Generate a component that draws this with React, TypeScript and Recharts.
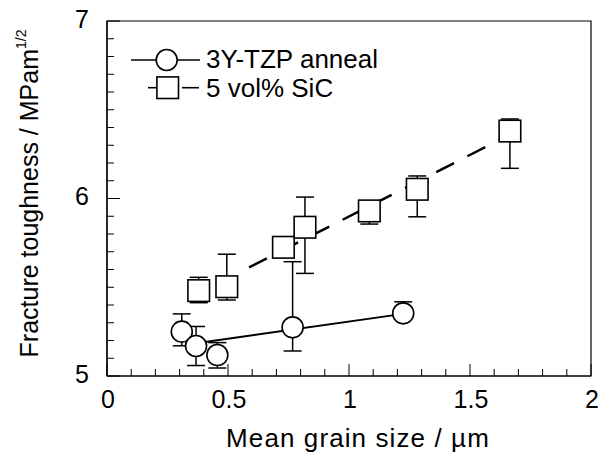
import {
  ComposedChart,
  Scatter,
  XAxis,
  YAxis,
  ErrorBar,
  ReferenceArea,
  Legend,
  Label,
} from 'recharts';

// 3Y-TZP anneal (circles)
const tzpX = [0.309, 0.368, 0.456, 0.767, 1.224];
const tzpY = [5.25, 5.169, 5.118, 5.274, 5.353];
const tzpErr = [[0.08, 0.1], [0.11, 0.11], [0.073, 0.07], [0.133, 0.37], [0.03, 0.065]];
const tzpFitX = [0.368, 1.224];
const tzpFitY = [5.185, 5.35];

// 5 vol% SiC (squares)
const sicX = [0.379, 0.495, 0.729, 0.818, 1.084, 1.282, 1.665];
const sicY = [5.481, 5.503, 5.725, 5.838, 5.93, 6.052, 6.38];
const sicErr = [[0.068, 0.075], [0.075, 0.183], [0.05, 0.05], [0.26, 0.17], [0.074, 0.04], [0.155, 0.075], [0.21, 0.068]];
const sicFitX = [0.587, 1.665];
const sicFitY = [5.612, 6.36];

const xTicks = [0, 0.1, 0.2, 0.3, 0.4, 0.5, 0.6, 0.7, 0.8, 0.9, 1, 1.1, 1.2, 1.3, 1.4, 1.5, 1.6, 1.7, 1.8, 1.9, 2];
const xMajor = [0, 0.5, 1, 1.5, 2];
const yTicks = [5, 5.1, 5.2, 5.3, 5.4, 5.5, 5.6, 5.7, 5.8, 5.9, 6, 6.1, 6.2, 6.3, 6.4, 6.5, 6.6, 6.7, 6.8, 6.9, 7];
const yMajor = [5, 6, 7];

const FONT = '"Liberation Sans", Arial, sans-serif';

const tzpData = tzpX.map((x, i) => ({ x, y: tzpY[i], err: tzpErr[i] }));
const sicData = sicX.map((x, i) => ({ x, y: sicY[i], err: sicErr[i] }));
const tzpFit = tzpFitX.map((x, i) => ({ x, y: tzpFitY[i] }));
const sicFit = sicFitX.map((x, i) => ({ x, y: sicFitY[i] }));

const isMajor = (list: number[], v: number) => list.some((m) => Math.abs(m - v) < 1e-9);

const XTick = (props: any) => {
  const { x, y, payload } = props;
  const major = isMajor(xMajor, payload.value);
  return (
    <g>
      <line x1={x} x2={x} y1={y} y2={y - (major ? 12 : 7)} stroke="#000" strokeWidth={1} />
      {major && (
        <text x={x + 1} y={y + 32} textAnchor="middle" fontSize={25} fontFamily={FONT} fill="#000">
          {String(payload.value)}
        </text>
      )}
    </g>
  );
};

const YTick = (props: any) => {
  const { x, y, payload } = props;
  const major = isMajor(yMajor, payload.value);
  return (
    <g>
      <line x1={x} x2={x + (major ? 13 : 7)} y1={y} y2={y} stroke="#000" strokeWidth={1} />
      {major && (
        <text x={x - 18} y={y + 6.5} textAnchor="end" fontSize={25} fontFamily={FONT} fill="#000">
          {String(payload.value)}
        </text>
      )}
    </g>
  );
};

const Circle = (props: any) => (
  <circle cx={props.cx} cy={props.cy} r={10.5} fill="#fff" stroke="#000" strokeWidth={1.6} />
);

const Square = (props: any) => (
  <rect x={props.cx - 10.8} y={props.cy - 10.8} width={21.6} height={21.6} fill="#fff" stroke="#000" strokeWidth={1.6} />
);

const NoDot = () => <g />;

const renderLegend = () => (
  <svg width={300} height={70} style={{ display: 'block' }}>
    <line x1={11} x2={80} y1={20} y2={20} stroke="#000" strokeWidth={1.6} />
    <circle cx={46.7} cy={20} r={10.5} fill="#fff" stroke="#000" strokeWidth={1.6} />
    <text x={86} y={28} fontSize={26} fontFamily={FONT} fill="#000">3Y-TZP anneal</text>
    <line x1={28} x2={37} y1={47.7} y2={47.7} stroke="#000" strokeWidth={1.6} />
    <line x1={62} x2={79} y1={47.7} y2={47.7} stroke="#000" strokeWidth={1.6} />
    <rect x={36.9} y={36.9} width={21.6} height={21.6} fill="#fff" stroke="#000" strokeWidth={1.6} />
    <text x={86} y={56.7} fontSize={26} fontFamily={FONT} fill="#000">5 vol% SiC</text>
  </svg>
);

export default function App() {
  return (
    <div style={{ position: 'absolute', left: 0, top: 0, background: '#fff' }}>
      <ComposedChart width={607} height={452} margin={{ top: 21, right: 16, bottom: 0, left: 0 }}>
        <XAxis
          type="number"
          dataKey="x"
          domain={[0, 2]}
          ticks={xTicks}
          interval={0}
          tick={<XTick />}
          tickSize={0}
          tickMargin={0}
          tickLine={false}
          height={76}
          axisLine={{ stroke: '#000', strokeWidth: 1.2 }}
          allowDataOverflow
        >
          <Label
            content={(p: any) => (
              <text
                x={358}
                y={p.viewBox.y + 71}
                textAnchor="middle"
                fontSize={26}
                letterSpacing={1.1}
                fontFamily={FONT}
                fill="#000"
              >
                Mean grain size / µm
              </text>
            )}
          />
        </XAxis>
        <YAxis
          type="number"
          dataKey="y"
          domain={[5, 7]}
          ticks={yTicks}
          interval={0}
          tick={<YTick />}
          tickSize={0}
          tickMargin={0}
          tickLine={false}
          width={107}
          axisLine={{ stroke: '#000', strokeWidth: 1.2 }}
          allowDataOverflow
        >
          <Label
            content={() => {
              const cx = 38;
              const cy = 193.5;
              return (
                <text
                  x={cx}
                  y={cy}
                  transform={`rotate(-90 ${cx} ${cy})`}
                  textAnchor="middle"
                  fontSize={25}
                  fontFamily={FONT}
                  fill="#000"
                >
                  Fracture toughness / MPam
                  <tspan fontSize={14} dy={-12}>1/2</tspan>
                </text>
              );
            }}
          />
        </YAxis>
        <ReferenceArea x1={0} x2={2} y1={5} y2={7} fill="none" fillOpacity={0} stroke="#000" strokeWidth={1.2} />
        <Scatter
          name="tzpFit"
          data={tzpFit}
          shape={<NoDot />}
          line={{ stroke: '#000', strokeWidth: 2 }}
          isAnimationActive={false}
          legendType="none"
        />
        <Scatter
          name="sicFit"
          data={sicFit}
          shape={<NoDot />}
          line={{ stroke: '#000', strokeWidth: 2.5, strokeDasharray: '20 15' }}
          isAnimationActive={false}
          legendType="none"
        />
        <Scatter name="3Y-TZP anneal" data={tzpData} shape={<Circle />} isAnimationActive={false}>
          <ErrorBar dataKey="err" direction="y" width={9} stroke="#000" strokeWidth={1.5} isAnimationActive={false} />
        </Scatter>
        <Scatter name="5 vol% SiC" data={sicData} shape={<Square />} isAnimationActive={false}>
          <ErrorBar dataKey="err" direction="y" width={9} stroke="#000" strokeWidth={1.5} isAnimationActive={false} />
        </Scatter>
        <Legend
          content={renderLegend}
          layout="vertical"
          align="center"
          verticalAlign="middle"
          wrapperStyle={{ position: 'absolute', left: 120, top: 40, width: 300, height: 70 }}
        />
      </ComposedChart>
    </div>
  );
}
